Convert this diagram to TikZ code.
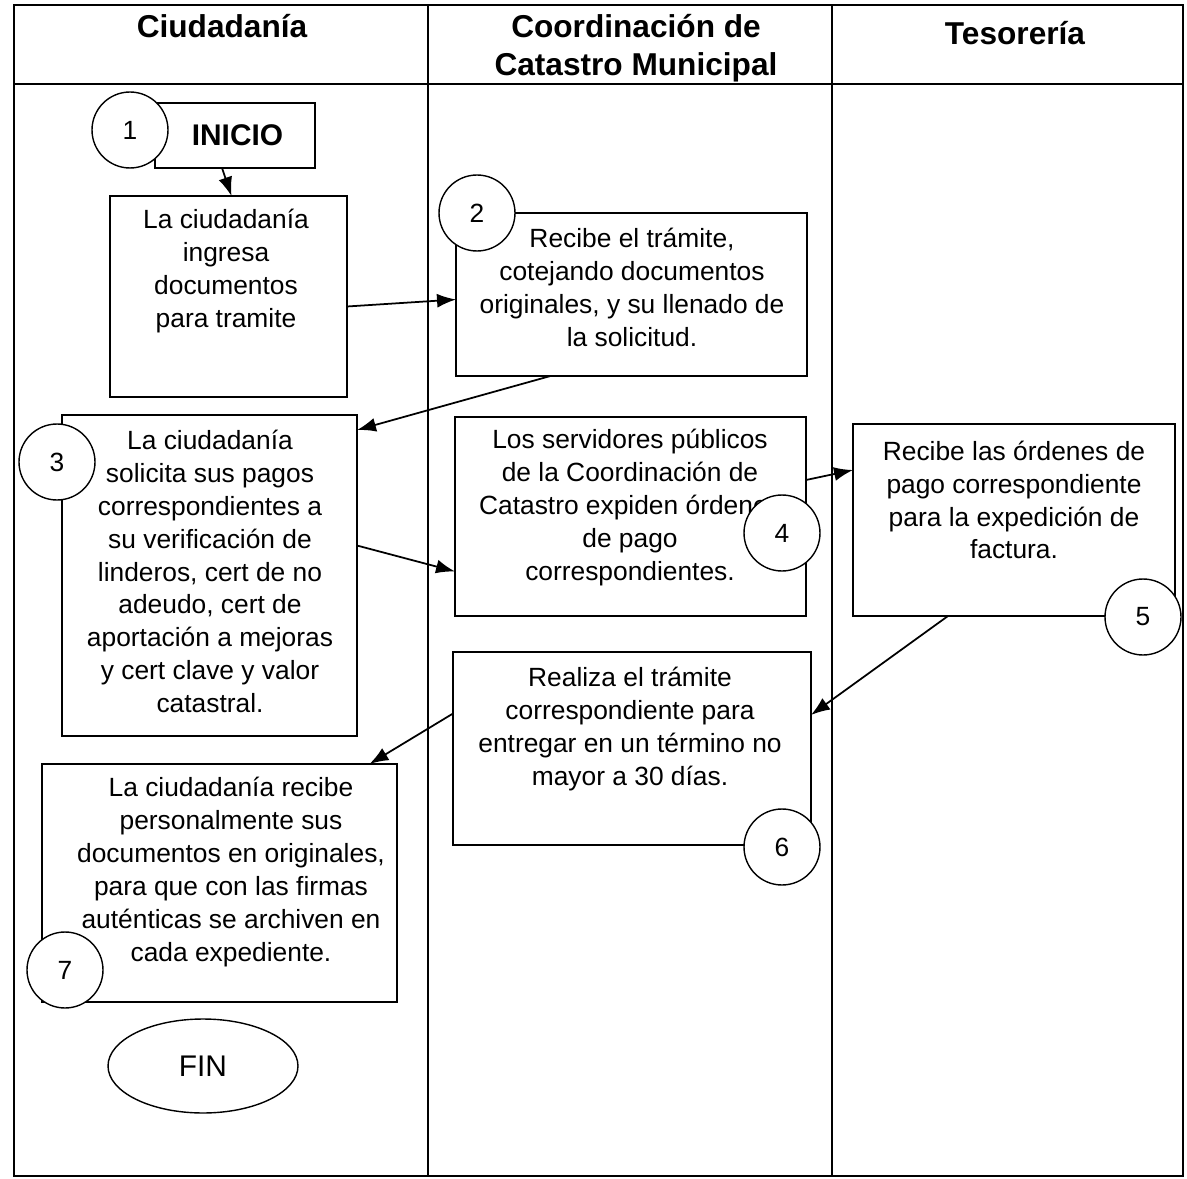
\documentclass[tikz,border=0pt]{standalone}
\usepackage{fontspec}
\setmainfont{Liberation Sans}
\usetikzlibrary{arrows.meta,shapes.geometric}

\tikzset{
  procbox/.style={draw, rectangle, inner sep=0pt, outer sep=0pt, line width=0.7pt},
  boxtext/.style={align=center, font=\fontsize{15}{18.7}\selectfont},
  stepnum/.style={draw, circle, fill=white, minimum size=1.52cm, inner sep=0pt,
                  line width=0.8pt, font=\fontsize{15}{18}\selectfont},
  lanehdr/.style={align=center, font=\bfseries\fontsize{18}{21.5}\selectfont},
  flow/.style={-{Latex[length=3.8mm,width=2.8mm]}, line width=1pt}
}

\begin{document}
\begin{tikzpicture}[x=0.02cm, y=-0.02cm]
    \useasboundingbox (0,0) rectangle (1187,1179);

    % Swimlane frame
    \draw[line width=1pt] (14,5) rectangle (1183,1176);
    \draw[line width=1pt] (14,84) -- (1183,84);
    \draw[line width=0.8pt] (428,5) -- (428,1176);
    \draw[line width=0.8pt] (832,5) -- (832,1176);

    % Lane headers
    \node[lanehdr] (hciud) at (222,26) {Ciudadanía};
    \node[lanehdr] (hcat)  at (636,48) {Coordinación de\\Catastro Municipal};
    \node[lanehdr] (htes)  at (1015,33) {Tesorería};

    % Boxes
    \node[procbox, minimum width=3.2cm,  minimum height=1.3cm]  (inicio) at (235,135.5)
        {\hspace*{0.1cm}\bfseries\fontsize{17}{20}\selectfont INICIO};
    \node[procbox, minimum width=4.74cm, minimum height=4.02cm] (ingresa) at (228.5,296.5) {};
    \node[procbox, minimum width=7.02cm, minimum height=3.26cm] (recibe) at (631.5,294.5) {};
    \node[procbox, minimum width=5.9cm,  minimum height=6.42cm] (solicita) at (209.5,575.5) {};
    \node[procbox, minimum width=7.02cm, minimum height=3.98cm] (expiden) at (630.5,516.5) {};
    \node[procbox, minimum width=6.44cm, minimum height=3.84cm] (ordenes) at (1014,520) {};
    \node[procbox, minimum width=7.16cm, minimum height=3.86cm] (realiza) at (632,748.5) {};
    \node[procbox, minimum width=7.1cm,  minimum height=4.76cm] (entrega) at (219.5,883) {};
    \node[draw, ellipse, line width=0.8pt, minimum width=3.8cm, minimum height=1.88cm,
          font=\fontsize{17}{20}\selectfont] (fin) at (203,1066) {FIN};

    % Box texts
    \node[boxtext] (tingresa) at (226,271)
        {La ciudadanía\\ingresa\\documentos\\para tramite};
    \node[boxtext] (trecibe) at (632,287.5)
        {Recibe el trámite,\\cotejando documentos\\originales, y su llenado de\\la solicitud.};
    \node[boxtext] (tsolicita) at (210,571.5)
        {La ciudadanía\\solicita sus pagos\\correspondientes a\\su verificación de\\linderos, cert de no\\adeudo, cert de\\aportación a mejoras\\y cert clave y valor\\catastral.};
    \node[boxtext] (texpiden) at (630,507.5)
        {Los servidores públicos\\de la Coordinación de\\Catastro expiden órdenes\\de pago\\correspondientes.};
    \node[boxtext] (tordenes) at (1014,500)
        {Recibe las órdenes de\\pago correspondiente\\para la expedición de\\factura.};
    \node[boxtext] (trealiza) at (630,729)
        {Realiza el trámite\\correspondiente para\\entregar en un término no\\mayor a 30 días.};
    \node[boxtext] (tentrega) at (231,872)
        {La ciudadanía recibe\\personalmente sus\\documentos en originales,\\para que con las firmas\\auténticas se archiven en\\cada expediente.};

    % Step numbers
    \node[stepnum] (n1) at (130,130) {1};
    \node[stepnum] (n2) at (477,213) {2};
    \node[stepnum] (n3) at (57,462) {3};
    \node[stepnum] (n4) at (782,533) {4};
    \node[stepnum] (n5) at (1143,617) {5};
    \node[stepnum] (n6) at (782,847) {6};
    \node[stepnum] (n7) at (65,970) {7};

    % Flow
    \draw[flow] ([xshift=-0.26cm]inicio.south) -- ([xshift=0.06cm]ingresa.north);
    \draw[flow] ([yshift=-0.2cm]ingresa.east) -- ([yshift=-0.1cm]recibe.west);
    \draw[flow] ([xshift=-1.62cm]recibe.south) -- ([yshift=-0.3cm]solicita.north east);
    \draw[flow] ([yshift=0.6cm]solicita.east) -- ([yshift=-1.1cm]expiden.west);
    \draw[flow] ([yshift=0.73cm]expiden.east) -- ([yshift=1cm]ordenes.west);
    \draw[flow] ([xshift=-1.32cm]ordenes.south) -- ([yshift=0.67cm]realiza.east);
    \draw[flow] ([yshift=0.7cm]realiza.west) -- ([xshift=3cm]entrega.north);
\end{tikzpicture}
\end{document}
